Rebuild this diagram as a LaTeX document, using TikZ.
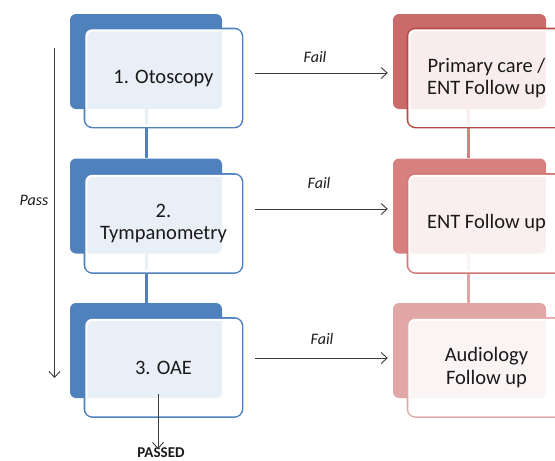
\documentclass[tikz,border=0pt]{standalone}
\usepackage{fontspec}
\setmainfont{Carlito}
\usetikzlibrary{arrows.meta}

\definecolor{bluemain}{HTML}{4F81BD}
\definecolor{redA}{HTML}{CB6B69}
\definecolor{redAline}{HTML}{B54C4A}
\definecolor{redB}{HTML}{D68180}
\definecolor{redBline}{HTML}{D27876}
\definecolor{redC}{HTML}{E1A6A6}
\definecolor{redCline}{HTML}{E3AAAA}
\definecolor{ink}{HTML}{1A1A1A}

\tikzset{
  backbox/.style={rectangle, rounded corners=6pt, minimum width=152pt,
    minimum height=95pt, inner sep=0pt, draw=none},
  frontbox/.style={rectangle, rounded corners=8pt, minimum width=157pt,
    minimum height=98pt, inner sep=0pt, line width=2.9pt, fill=white,
    fill opacity=0.88, text opacity=1, text=ink, align=center,
    font=\fontsize{20.5}{22.5}\selectfont},
  link/.style={line width=3pt},
  flow/.style={draw=ink!85, line width=0.9pt,
    -{Straight Barb[length=6pt,width=11pt,line width=0.9pt]}},
  lab/.style={text=ink, font=\fontsize{16}{18}\selectfont\itshape},
}

% white rim just inside a front box's border
\newcommand{\innerrim}[1]{%
  \draw[white, line width=2.2pt, rounded corners=6pt]
    ([shift={(2.8pt,2.8pt)}]#1.south west) rectangle ([shift={(-2.8pt,-2.8pt)}]#1.north east);}

\begin{document}
\begin{tikzpicture}[x=1pt,y=-1pt]
\clip (0,0) rectangle (555,461);
\fill[white] (0,0) rectangle (555,461);

% back plates, screening column
\node[backbox, fill=bluemain] (b1) at (146,61.5) {};
\node[backbox, fill=bluemain] (b2) at (146,206) {};
\node[backbox, fill=bluemain] (b3) at (146,350.5) {};
% back plates, referral column
\node[backbox, fill=redA, minimum width=153pt] (r1) at (469.5,61.5) {};
\node[backbox, fill=redB, minimum width=153pt] (r2) at (469.5,206) {};
\node[backbox, fill=redC, minimum width=153pt] (r3) at (469.5,350.5) {};

% vertical links behind the front boxes
\draw[link, bluemain] (b1.south) -- (b2.north);
\draw[link, bluemain] (b2.south) -- (b3.north);
\draw[link, redB] ([xshift=-1.5pt]r1.south) -- ([xshift=-1.5pt]r2.north);
\draw[link, redC] ([xshift=-1.5pt]r2.south) -- ([xshift=-1.5pt]r3.north);

% front boxes
\node[frontbox, draw=bluemain] (f1) at (163.5,78) {1. Otoscopy};
\node[frontbox, draw=bluemain] (f2) at (163.5,223.5) {2.\\Tympanometry};
\node[frontbox, draw=bluemain] (f3) at (163.5,367.5) {3. OAE};
\node[frontbox, draw=redAline] (g1) at (486.5,78) {Primary care /\\ENT Follow up};
\node[frontbox, draw=redBline] (g2) at (486.5,223.5) {ENT Follow up};
\node[frontbox, draw=redCline] (g3) at (486.5,367.5) {Audiology\\Follow up};
\foreach \n in {f1,f2,f3,g1,g2,g3} {\innerrim{\n}}

% fail arrows
\coordinate (s1) at ([shift={(12pt,5pt)}]f1.east);
\coordinate (s2) at ([shift={(12pt,14.5pt)}]f2.east);
\coordinate (s3) at ([shift={(12pt,9.5pt)}]f3.east);
\draw[flow, shorten >=5pt] (s1) -- (s1 -| r1.west);
\draw[flow, shorten >=5pt] (s2) -- (s2 -| r2.west);
\draw[flow, shorten >=5pt] (s3) -- (s3 -| r3.west);
\node[lab] (fail1) at (315,57) {Fail};
\node[lab] (fail2) at (319,183) {Fail};
\node[lab] (fail3) at (322,339) {Fail};

% pass arrow on the left
\coordinate (ptop) at (54.5,48);
\coordinate (pbot) at (54.5,378);
\draw[flow] (ptop) -- (pbot);
\node[lab] (pass) at (34,200) {Pass};

% exit arrow
\node[text=ink, font=\fontsize{15}{17}\selectfont\bfseries, anchor=north, inner sep=0pt]
  (passed) at (161,447) {PASSED};
\coordinate (x0) at ([xshift=12pt,yshift=4pt]b3.south);
\draw[flow] (x0) -- ([yshift=-2pt]x0 |- passed.north);
\end{tikzpicture}
\end{document}
